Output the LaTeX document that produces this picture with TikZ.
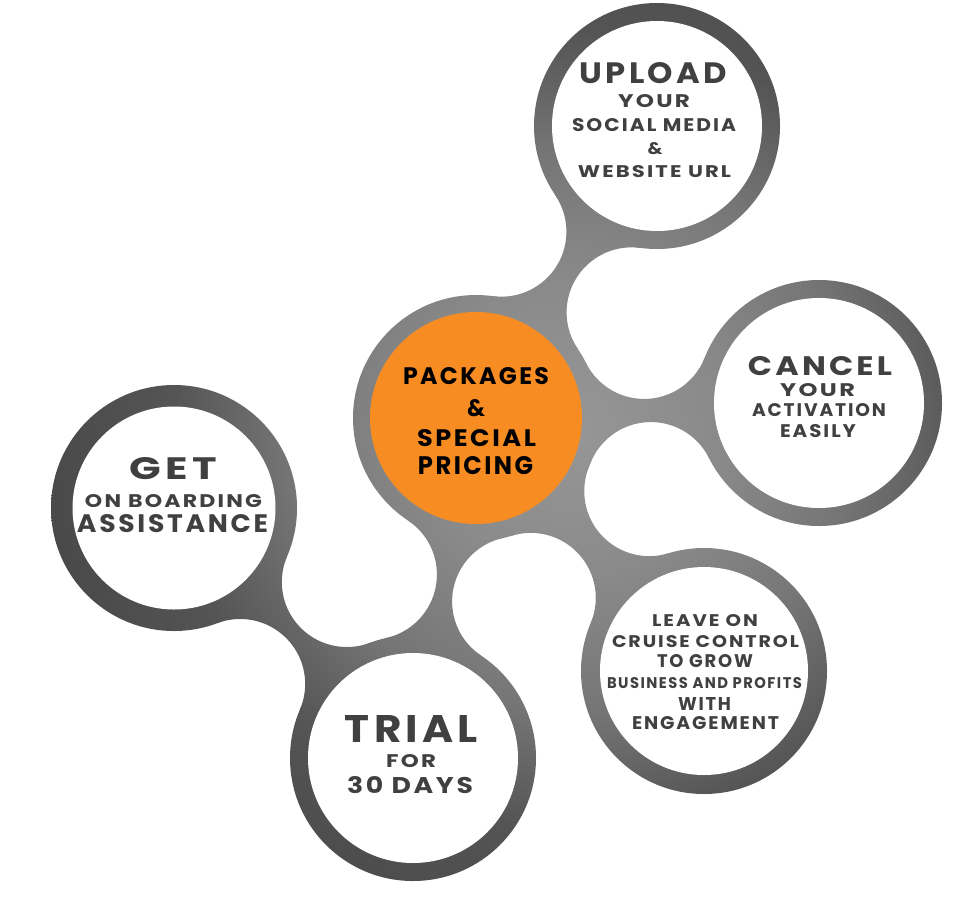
\documentclass[tikz,border=0pt]{standalone}
\usepackage{fontspec}
\usepackage{graphicx}
\setmainfont{Poppins}
\newfontfamily\lbl[LetterSpace=10]{Poppins}
\usetikzlibrary{calc}
\definecolor{s0}{gray}{0.59}
\definecolor{s1}{gray}{0.54}
\definecolor{s2}{gray}{0.46}
\definecolor{s3}{gray}{0.33}
\definecolor{s4}{gray}{0.29}
\definecolor{txt}{HTML}{404040}
\definecolor{orng}{HTML}{F78D22}
\pgfdeclareradialshading{blob}{\pgfpoint{0bp}{0bp}}{color(0bp)=(s0); color(7.2bp)=(s1); color(13.5bp)=(s2); color(19.2bp)=(s3); color(25bp)=(s4); color(50bp)=(s4)}
\newcommand\gshade{\shade[shading=blob,overlay] (50,-90) rectangle (1090,950);}
\newcommand\Rout{123}
% bridge between two named centres: #1 A, #2 B, #3 hole radius, #4 name
\newcommand\bridge[4]{%
  \path (#1); \pgfgetlastxy{\bax}{\bay}
  \path (#2); \pgfgetlastxy{\bbx}{\bby}
  \pgfmathsetmacro\bmx{(\bax+\bbx)/2}
  \pgfmathsetmacro\bmy{(\bay+\bby)/2}
  \pgfmathsetmacro\bhd{veclen((\bbx-\bax)/10,(\bby-\bay)/10)*5}
  \pgfmathsetmacro\bt{sqrt((\Rout+#3-\bhd)*(\Rout+#3+\bhd))}
  \pgfmathsetmacro\bux{-(\bby-\bay)/(2*\bhd)}
  \pgfmathsetmacro\buy{(\bbx-\bax)/(2*\bhd)}
  \coordinate (#4p) at (\bmx pt+\bt*\bux pt, \bmy pt+\bt*\buy pt);
  \coordinate (#4q) at (\bmx pt-\bt*\bux pt, \bmy pt-\bt*\buy pt);
  \begin{scope}[even odd rule]
    \clip (#1) -- (#4p) -- (#2) -- (#4q) -- cycle;
    \clip (-100,-100) rectangle (1100,1100)
      (#4p) circle[radius=#3pt] (#4q) circle[radius=#3pt];
    \gshade
  \end{scope}
}
\newcommand\fitt[3]{\resizebox{#1pt}{#2pt}{\lbl\bfseries #3}}
\tikzset{
  inner/.style={circle, fill=white, inner sep=0pt, minimum size=#1},
  lineT/.style={inner sep=0pt, text=txt},
  lineC/.style={inner sep=0pt, text=black}
}
\begin{document}
\begin{tikzpicture}[x=1pt,y=-1pt]
\useasboundingbox (0,0) rectangle (955,914);
\coordinate (C) at (476,418);
\coordinate (U) at (657,126);
\coordinate (K) at (819,403);
\coordinate (G) at (174,508);
\coordinate (T) at (413,758);
\coordinate (L) at (704,671);
% bridges
\bridge{C}{U}{65}{cu}
\bridge{C}{K}{65}{ck}
\bridge{C}{L}{65}{cl}
\bridge{C}{T}{65}{ct}
\bridge{G}{T}{65}{gt}
% outer rings
\begin{scope}
  \clip (C) circle[radius=\Rout pt] (U) circle[radius=\Rout pt] (K) circle[radius=\Rout pt]
        (G) circle[radius=\Rout pt] (T) circle[radius=\Rout pt] (L) circle[radius=\Rout pt];
  \gshade
\end{scope}
% inner discs
\node[inner=212pt, fill=orng] (Ci) at (C) {};
\node[inner=210pt] (Ui) at (U) {};
\node[inner=210pt] (Ki) at (K) {};
\node[inner=203pt] (Gi) at (G) {};
\node[inner=210pt] (Ti) at (T) {};
\node[inner=208pt] (Li) at (L) {};
% texts: upload
\node[lineT] (u1) at (653.5,73.5) {\fitt{147}{21}{UPLOAD}};
\node[lineT] (u2) at (654,101.5) {\fitt{72}{13}{YOUR}};
\node[lineT] (u3) at (654,125.5) {\fitt{164}{13}{SOCIAL MEDIA}};
\node[lineT] (u4) at (655,149) {\fitt{15}{12}{\&}};
\node[lineT] (u5) at (654.5,172) {\fitt{153}{12}{WEBSITE URL}};
% cancel
\node[lineT] (k1) at (820,366) {\fitt{144}{19}{CANCEL}};
\node[lineT] (k2) at (817.5,390) {\fitt{75}{13}{YOUR}};
\node[lineT] (k3) at (819,410.5) {\fitt{134}{13}{ACTIVATION}};
\node[lineT] (k4) at (818,431.5) {\fitt{76}{13}{EASILY}};
% get
\node[lineT] (g1) at (173.5,469) {\fitt{87}{22}{GET}};
\node[lineT] (g2) at (173.5,501.5) {\fitt{177}{13}{ON BOARDING}};
\node[lineT] (g3) at (172.5,524) {\fitt{191}{18}{ASSISTANCE}};
% trial
\node[lineT] (t1) at (411.5,728.5) {\fitt{133}{27}{TRIAL}};
\node[lineT] (t2) at (411,761.5) {\fitt{50}{13}{FOR}};
\node[lineT] (t3) at (410,785.5) {\fitt{126}{17}{30 DAYS}};
% leave
\node[lineT] (l1) at (705,621) {\fitt{106}{12}{LEAVE ON}};
\node[lineT] (l2) at (705.5,642) {\fitt{187}{12}{CRUISE CONTROL}};
\node[lineT] (l3) at (705,661.5) {\fitt{96}{13}{TO GROW}};
\node[lineT] (l4) at (704.5,683.5) {\fitt{195}{11}{BUSINESS AND PROFITS}};
\node[lineT] (l5) at (704.5,703.5) {\fitt{53}{13}{WITH}};
\node[lineT] (l6) at (705.5,723.5) {\fitt{147}{13}{ENGAGEMENT}};
% centre
\node[lineC] (c1) at (476,376.5) {\fitt{146}{17}{PACKAGES}};
\node[lineC] (c2) at (476,408.5) {\fitt{18}{17}{\&}};
\node[lineC] (c3) at (476.5,438.5) {\fitt{119}{17}{SPECIAL}};
\node[lineC] (c4) at (475.5,466) {\fitt{115}{18}{PRICING}};
\end{tikzpicture}
\end{document}
